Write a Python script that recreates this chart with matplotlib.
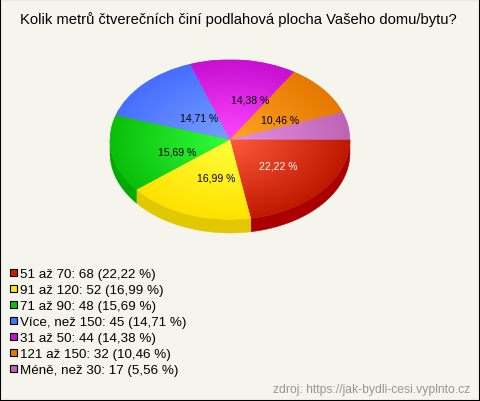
import numpy as np
import matplotlib
matplotlib.use("Agg")
import matplotlib.pyplot as plt
from matplotlib.patches import Wedge, Rectangle, Polygon
from matplotlib.transforms import Affine2D

title = "Kolik metrů čtverečních činí podlahová plocha Vašeho domu/bytu?"
source = "zdroj: https://jak-bydli-cesi.vyplnto.cz"
categories = ["51 až 70", "91 až 120", "71 až 90", "Více, než 150", "31 až 50", "121 až 150", "Méně, než 30"]
counts = [68, 52, 48, 45, 44, 32, 17]
percents = ["22,22", "16,99", "15,69", "14,71", "14,38", "10,46", "5,56"]

# barvy: stred, okraj, bok
inner = ["#ff5a3c", "#ffff3c", "#32ff3c", "#78a0ff", "#ff46ff", "#ffa528", "#e691e6"]
outer = ["#be1900", "#ffe100", "#0abe0a", "#466eff", "#c80fd2", "#e67800", "#be64b4"]
side = ["#aa0000", "#e1c800", "#00aa00", "#3250c8", "#960a9b", "#aa5a00", "#8c4b87"]
legend_col = ["#c81e00", "#ffeb00", "#0ac30a", "#4673ff", "#c80fd2", "#e67800", "#be64b4"]
label_col = ["white", "black", "black", "black", "black", "black", None]
label_off = [(2, 0), (7, 1), (6, 5), (12, 6), (13, 0), (3, 5), None]

cx, cy, rx, ry, depth = 230, 140.5, 120, 80, 13.5
bg = "#f5f5ee"

plt.rcParams["font.family"] = ["Liberation Sans", "DejaVu Sans"]
fig = plt.figure(figsize=(4.8, 4.02), dpi=100, facecolor=bg)
ax = fig.add_axes([0, 0, 1, 1])
ax.set_xlim(0, 480)
ax.set_ylim(402, 0)
ax.axis("off")
ax.set_autoscale_on(False)

total = sum(counts)
edges = np.cumsum([0] + counts) / total * 360
to_pie = Affine2D().scale(rx, ry).translate(cx, cy) + ax.transData

# bok kolace - jen spodni polovina
for i in range(len(counts)):
    a, b = edges[i], min(edges[i + 1], 180)
    if a >= 180:
        continue
    t = np.radians(np.linspace(a, b, 60))
    x = cx + rx * np.cos(t)
    y = cy + ry * np.sin(t)
    pts = np.r_[np.c_[x, y], np.c_[x, y + depth][::-1]]
    ax.add_patch(Polygon(pts, closed=True, fc=side[i], ec=side[i], lw=0.3, zorder=1))

# vrchni plocha s radialnim prechodem
yy, xx = np.mgrid[-1:1:400j, -1:1:400j]
dist = np.clip(np.hypot(xx, yy), 0, 1)[..., None]
for i in range(len(counts)):
    w = Wedge((0, 0), 1, edges[i], edges[i + 1], fc=outer[i], ec="none", transform=to_pie, zorder=2)
    ax.add_patch(w)
    c0 = np.array(matplotlib.colors.to_rgb(inner[i]))
    c1 = np.array(matplotlib.colors.to_rgb(outer[i]))
    im = ax.imshow(c0 + (c1 - c0) * dist, extent=(cx - rx, cx + rx, cy + ry, cy - ry),
                   aspect="auto", zorder=3, interpolation="bilinear")
    im.set_clip_path(w)
    if label_off[i]:
        mid = np.radians((edges[i] + edges[i + 1]) / 2)
        ax.text(cx + 0.5 * rx * np.cos(mid) + label_off[i][0], cy + 0.5 * ry * np.sin(mid) + label_off[i][1],
                percents[i] + " %", color=label_col[i], fontsize=7.5, ha="center", va="center", zorder=5)

ax.text(238, 20, title, fontsize=10.65, ha="center", va="center", color="black")

# legenda
for i in range(len(counts)):
    y = 274.5 + i * 16
    ax.add_patch(Rectangle((9.5, y - 4.5), 7, 7, fc=legend_col[i], ec="black", lw=0.8))
    ax.text(20, y + 0.5, f"{categories[i]}: {counts[i]} ({percents[i]} %)", fontsize=9.6, va="center", color="black")

ax.text(470, 390, source, fontsize=8.7, ha="right", va="center", color="#969696")

fig.add_artist(Rectangle((0, 0), 1, 1, transform=fig.transFigure, fc="none", ec="black", lw=1.5))
fig.savefig("out.png", dpi=100, facecolor=bg)
